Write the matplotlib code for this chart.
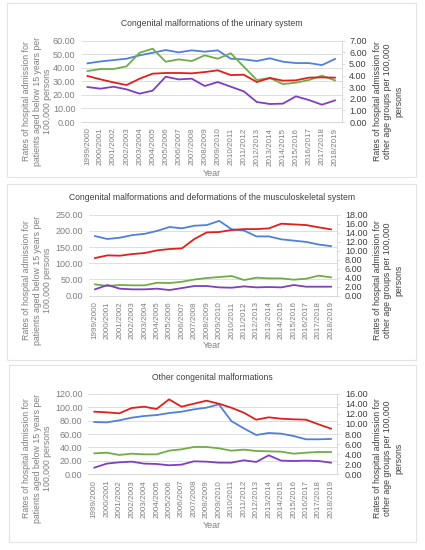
import numpy as np
import matplotlib
matplotlib.use("Agg")
import matplotlib.pyplot as plt
from matplotlib.patches import Rectangle

plt.rcParams['font.family'] = ['Liberation Sans', 'DejaVu Sans']

# ==========================================
# DATI
# ==========================================
anni = ["1999/2000", "2000/2001", "2001/2002", "2002/2003", "2003/2004",
        "2004/2005", "2005/2006", "2006/2007", "2007/2008", "2008/2009",
        "2009/2010", "2010/2011", "2011/2012", "2012/2013", "2013/2014",
        "2014/2015", "2015/2016", "2016/2017", "2017/2018", "2018/2019"]

# urinario (blu/verde asse sinistro, rosso/viola asse destro)
uri_blu = [43.3, 44.7, 45.7, 46.7, 49.2, 51.1, 53.1, 51.4, 52.9, 51.9,
           52.9, 46.7, 46.2, 45.0, 47.0, 44.5, 43.5, 43.5, 42.0, 46.5]
uri_verde = [37.6, 39.1, 39.1, 41.1, 51.1, 54.1, 44.5, 46.2, 45.0, 49.2,
             46.7, 50.7, 40.8, 31.0, 32.5, 28.0, 29.0, 31.0, 34.2, 30.7]
uri_rosso = [3.96, 3.67, 3.41, 3.18, 3.73, 4.16, 4.22, 4.22, 4.19, 4.30,
             4.45, 4.04, 4.07, 3.44, 3.79, 3.56, 3.59, 3.82, 3.84, 3.82]
uri_viola = [3.01, 2.87, 3.04, 2.81, 2.44, 2.70, 3.90, 3.67, 3.73, 3.10,
             3.44, 3.04, 2.64, 1.72, 1.55, 1.58, 2.21, 1.89, 1.49, 1.86]

# muscoloscheletrico
mus_blu = [184, 175, 179, 187, 191, 200, 212, 208, 216, 218,
           231, 205, 201, 183, 183, 174, 170, 166, 158, 153]
mus_verde = [35, 30, 33, 32, 32, 40, 39, 43, 50, 54.5,
             57.6, 60.7, 48.4, 55.6, 53.5, 53.5, 49.4, 52.5, 61.7, 56.6]
mus_rosso = [8.37, 8.96, 8.89, 9.26, 9.48, 10.07, 10.37, 10.52, 12.6, 14.07,
             14.15, 14.6, 14.8, 14.8, 14.96, 16.0, 15.85, 15.7, 15.2, 14.74]
mus_viola = [1.41, 2.37, 1.56, 1.41, 1.41, 1.56, 1.26, 1.70, 2.15, 2.15,
             1.85, 1.78, 2.07, 1.85, 1.93, 1.85, 2.37, 2.0, 2.0, 2.0]

# altre malformazioni
alt_blu = [77.8, 77.3, 80.3, 84.3, 86.8, 88.2, 91.2, 93.2, 96.7, 99.2,
           104.1, 79.3, 68.4, 58.5, 61.5, 60.5, 57.0, 52.1, 52.1, 52.6]
alt_verde = [31.2, 32.2, 28.8, 30.7, 29.7, 29.7, 35.2, 37.2, 40.7, 40.7,
             38.7, 35.2, 36.7, 34.7, 34.2, 33.7, 30.7, 32.2, 33.2, 33.2]
alt_rosso = [12.43, 12.30, 12.10, 13.16, 13.42, 12.96, 14.88, 13.42, 14.02, 14.61,
             14.02, 13.22, 12.23, 10.84, 11.31, 11.04, 10.91, 10.84, 9.92, 9.06]
alt_viola = [1.32, 2.12, 2.38, 2.51, 2.12, 2.05, 1.79, 1.92, 2.58, 2.51,
             2.31, 2.31, 2.78, 2.45, 3.77, 2.71, 2.64, 2.71, 2.64, 2.31]

titoli = ["Congenital malformations of the urinary system",
          "Congenital malformations and deformations of the musculoskeletal system",
          "Other congenital malformations"]

label_sx = "Rates of hospital admission for\npatients aged below 15 years per\n100,000 persons"
label_dx = "Rates of hospital admission for\nother age groups per 100,000\npersons"

# ==========================================
# LAYOUT (pixel della figura 425x550)
# ==========================================
W, H = 425, 550
BLU, ROSSO, VERDE, VIOLA = "#4F81D9", "#E0201B", "#70AD47", "#7F3FBF"
GRIGIO = "#7F7F7F"
SCURO = "#404040"
GRIGLIA = "#D9D9D9"

pannelli = [
    # dati, box, assi (x0, x1, ytop, ybot), lim sx, step sx, lim dx, step dx, y titolo, y Year, y label
    dict(sx=(uri_blu, uri_verde), dx=(uri_rosso, uri_viola), box=(7, 3, 416, 177),
         ax=(81, 341.5, 40.7, 122), lsx=60, ssx=10, ldx=7, sdx=1, yt=24, yy=173, yl=101),
    dict(sx=(mus_blu, mus_verde), dx=(mus_rosso, mus_viola), box=(7, 184, 416, 360),
         ax=(88.8, 337.2, 214.7, 295.7), lsx=250, ssx=50, ldx=18, sdx=2, yt=197, yy=346, yl=280),
    dict(sx=(alt_blu, alt_verde), dx=(alt_rosso, alt_viola), box=(9, 365, 416, 542),
         ax=(88.1, 337.2, 393.7, 474.3), lsx=120, ssx=20, ldx=16, sdx=2, yt=377, yy=526, yl=458),
]

fig = plt.figure(figsize=(W / 100, H / 100), dpi=100)
x = np.arange(len(anni))

for i, p in enumerate(pannelli):
    bx0, by0, bx1, by1 = p["box"]
    fig.patches.append(Rectangle((bx0 / W, 1 - by1 / H), (bx1 - bx0) / W, (by1 - by0) / H,
                                 transform=fig.transFigure, fill=False,
                                 edgecolor="#E3E3E3", linewidth=0.8))

    x0, x1, yt, yb = p["ax"]
    ax = fig.add_axes([x0 / W, 1 - yb / H, (x1 - x0) / W, (yb - yt) / H])
    ax2 = ax.twinx()

    ax.plot(x, p["sx"][0], color=BLU, lw=1.3, zorder=3)
    ax.plot(x, p["sx"][1], color=VERDE, lw=1.3, zorder=3)
    ax2.plot(x, p["dx"][0], color=ROSSO, lw=1.3)
    ax2.plot(x, p["dx"][1], color=VIOLA, lw=1.3)

    ax.set_xlim(-0.5, len(anni) - 0.5)
    ax.set_ylim(0, p["lsx"])
    ax2.set_ylim(0, p["ldx"])
    ax.set_yticks(np.arange(0, p["lsx"] + 0.1, p["ssx"]))
    ax2.set_yticks(np.arange(0, p["ldx"] + 0.1, p["sdx"]))
    ax.yaxis.set_major_formatter(matplotlib.ticker.StrMethodFormatter("{x:.2f}"))
    ax2.yaxis.set_major_formatter(matplotlib.ticker.StrMethodFormatter("{x:.2f}"))

    ax.set_xticks(x)
    ax.set_xticklabels(anni, rotation=90, fontsize=5.8, color=GRIGIO)
    ax.tick_params(axis="x", length=0, pad=4)
    ax.tick_params(axis="y", length=0, pad=4, labelsize=6.5, labelcolor=GRIGIO)
    ax2.tick_params(axis="y", length=2.5, width=0.6, color=GRIGLIA, pad=3,
                    labelsize=6.5, labelcolor=SCURO)

    ax.grid(axis="y", color=GRIGLIA, lw=0.6)
    ax.set_axisbelow(True)
    for a in (ax, ax2):
        for s in ("top", "left"):
            a.spines[s].set_visible(False)
        a.spines["bottom"].set_color(GRIGLIA)
        a.spines["right"].set_color(GRIGLIA)
        a.spines["bottom"].set_linewidth(0.7)
        a.spines["right"].set_linewidth(0.7)
    ax.spines["right"].set_visible(False)

    fig.text(212 / W, 1 - p["yt"] / H, titoli[i], ha="center", va="center",
             fontsize=6.2, color=SCURO)
    fig.text(212 / W, 1 - p["yy"] / H, "Year", ha="center", va="center",
             fontsize=6.5, color=GRIGIO)
    fig.text(37 / W, 1 - p["yl"] / H, label_sx, rotation=90, ha="center", va="center",
             multialignment="center", fontsize=6.3, color=GRIGIO, linespacing=1.25)
    fig.text(388 / W, 1 - p["yl"] / H, label_dx, rotation=90, ha="center", va="center",
             multialignment="center", fontsize=6.3, color=SCURO, linespacing=1.25)

fig.savefig("out.png", dpi=100, facecolor="white")
